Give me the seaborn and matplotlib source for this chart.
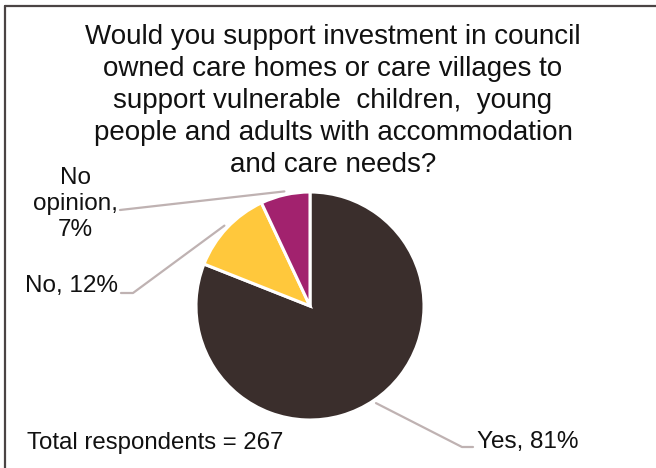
import numpy as np
import matplotlib
matplotlib.use("Agg")
import matplotlib.pyplot as plt
from matplotlib.lines import Line2D
import seaborn as sns

# Survey responses
categories = ["Yes", "No", "No opinion"]
shares = [81, 12, 7]
slice_colors = ["#3A2E2C", "#FFC83C", "#A2226E"]
total_respondents = 267
title = ("Would you support investment in council\n"
         "owned care homes or care villages to\n"
         "support vulnerable  children,  young\n"
         "people and adults with accommodation\n"
         "and care needs?")

sns.set_theme(style="white")
plt.rcParams["font.family"] = ["Liberation Sans", "DejaVu Sans"]

W, H = 656, 468
fig = plt.figure(figsize=(W / 100, H / 100), dpi=100)
fig.patch.set_facecolor("white")

# pie axes: square box placed in pixel space
cx, cy, r = 310, 306, 114
ax = fig.add_axes([(cx - r) / W, (H - cy - r) / H, 2 * r / W, 2 * r / H])
wedges, _ = ax.pie(shares, colors=slice_colors, startangle=90, counterclock=False,
                   wedgeprops=dict(edgecolor="white", linewidth=2.2))
ax.set_xlim(-1, 1)
ax.set_ylim(-1, 1)
ax.set_aspect("equal")
ax.axis("off")

# frame: top and left edges only
frame_col = "#4A4444"
fig.add_artist(Line2D([5 / W, 1], [1 - 6 / H, 1 - 6 / H], transform=fig.transFigure,
                      color=frame_col, lw=1.6))
fig.add_artist(Line2D([5 / W, 5 / W], [0, 1 - 6 / H], transform=fig.transFigure,
                      color=frame_col, lw=1.6))

text_col = "#111111"
fig.text(333 / W, 1 - 101 / H, title, ha="center", va="center", fontsize=20,
         color=text_col, linespacing=1.3)

fig.text(27 / W, 1 - 443 / H, f"Total respondents = {total_respondents}",
         ha="left", va="center", fontsize=17.3, color=text_col)


def px(x, y):
    return x / W, 1 - y / H


leader = "#BFB2B2"
# label placement (pixels): text anchor, elbow point, alignment
label_spec = {
    "Yes": dict(text=(477, 442), elbow=(462, 447), ha="left"),
    "No": dict(text=(118, 286), elbow=(133, 293), ha="right"),
    "No opinion": dict(text=(75, 204), elbow=(120, 210), ha="center"),
}
for w, cat, val in zip(wedges, categories, shares):
    mid = np.deg2rad((w.theta1 + w.theta2) / 2)
    ax_pt = (1.03 * np.cos(mid), 1.03 * np.sin(mid))
    disp = ax.transData.transform(ax_pt)
    fx, fy = fig.transFigure.inverted().transform(disp)
    spec = label_spec[cat]
    ex, ey = px(*spec["elbow"])
    if cat == "No opinion":
        xs, ys = [ex, fx], [ey, fy]
        txt = f"No\nopinion,\n{val}%"
    elif cat == "No":
        xs, ys = [ex - 12 / W, ex, fx], [ey, ey, fy]
        txt = f"{cat}, {val}%"
    else:
        xs, ys = [fx, ex, ex + 11 / W], [fy, ey, ey]
        txt = f"{cat}, {val}%"
    fig.add_artist(Line2D(xs, ys, transform=fig.transFigure, color=leader, lw=1.6))
    tx, ty = px(*spec["text"])
    fig.text(tx, ty, txt, ha=spec["ha"], va="center", fontsize=17.5,
             color=text_col, linespacing=1.25)

fig.savefig("out.png", dpi=100, facecolor="white")
